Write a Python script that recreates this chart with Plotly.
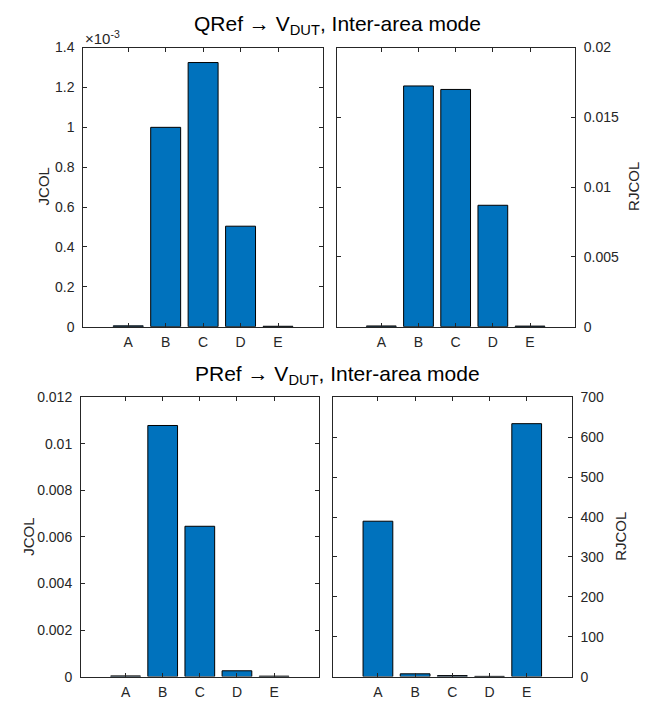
import plotly.graph_objects as go

W, H = 667, 711

categories = ["A", "B", "C", "D", "E"]
q_jcol = [4e-6, 1.0e-3, 1.325e-3, 0.504e-3, 2e-6]
q_rjcol = [5e-5, 0.01725, 0.0170, 0.0087, 4e-5]
p_jcol = [3e-5, 0.01079, 0.00646, 0.00025, 2e-5]
p_rjcol = [389.5, 7.0, 2.5, 0.6, 634.0]

q_jcol_ticks = [0, 0.2e-3, 0.4e-3, 0.6e-3, 0.8e-3, 1.0e-3, 1.2e-3, 1.4e-3]
q_jcol_ticktext = ["0", "0.2", "0.4", "0.6", "0.8", "1", "1.2", "1.4"]
q_rjcol_ticks = [0, 0.005, 0.01, 0.015, 0.02]
q_rjcol_ticktext = ["0", "0.005", "0.01", "0.015", "0.02"]
p_jcol_ticks = [0, 0.002, 0.004, 0.006, 0.008, 0.01, 0.012]
p_jcol_ticktext = ["0", "0.002", "0.004", "0.006", "0.008", "0.01", "0.012"]
p_rjcol_ticks = [0, 100, 200, 300, 400, 500, 600, 700]
p_rjcol_ticktext = ["0", "100", "200", "300", "400", "500", "600", "700"]

BAR = "#0072BD"
AX = "#262626"
FONT = "Liberation Sans, Arial, sans-serif"
TICK = 14

def px_x(a, b):
    return [a / W, b / W]

def px_y(top, bottom):
    return [1 - bottom / H, 1 - top / H]

panels = [
    (q_jcol, px_x(83.3, 323.3), px_y(40.5, 326), [0, 1.4e-3], q_jcol_ticks, q_jcol_ticktext, "left"),
    (q_rjcol, px_x(336.7, 575), px_y(40.5, 326), [0, 0.02], q_rjcol_ticks, q_rjcol_ticktext, "right"),
    (p_jcol, px_x(81, 319), px_y(398.3, 684), [0, 0.012], p_jcol_ticks, p_jcol_ticktext, "left"),
    (p_rjcol, px_x(333.3, 571.7), px_y(398.3, 684), [0, 700], p_rjcol_ticks, p_rjcol_ticktext, "right"),
]

fig = go.Figure()
layout = dict(
    width=W, height=H,
    margin=dict(l=0, r=0, t=0, b=0),
    paper_bgcolor="white", plot_bgcolor="white",
    showlegend=False,
    font=dict(family=FONT, size=TICK, color=AX),
    bargap=0.2,
)

for i, (vals, xd, yd, yr, tv, tt, side) in enumerate(panels, start=1):
    xa = "x" if i == 1 else f"x{i}"
    ya = "y" if i == 1 else f"y{i}"
    fig.add_trace(go.Bar(
        x=categories, y=vals, xaxis=xa, yaxis=ya, width=0.8,
        marker=dict(color=BAR, line=dict(color="#000000", width=1)),
    ))
    xkey = "xaxis" if i == 1 else f"xaxis{i}"
    ykey = "yaxis" if i == 1 else f"yaxis{i}"
    layout[xkey] = dict(
        domain=xd, anchor=ya, type="category", range=[-1.2, 5.21],
        showline=True, linecolor=AX, linewidth=1, mirror="ticks",
        ticks="inside", ticklen=4, tickcolor=AX, showgrid=False,
        ticklabelstandoff=3,
        tickfont=dict(family=FONT, size=TICK, color=AX), fixedrange=True,
    )
    layout[ykey] = dict(
        domain=yd, anchor=xa, range=yr, side=side,
        tickvals=tv, ticktext=tt,
        showline=True, linecolor=AX, linewidth=1, mirror="ticks",
        ticks="inside", ticklen=4, tickcolor=AX, showgrid=False, zeroline=False,
        ticklabelstandoff=5,
        tickfont=dict(family=FONT, size=TICK, color=AX), fixedrange=True,
    )

fig.update_layout(**layout)

ann = []
def add_text(text, x, y, size=14, angle=0, xanchor="center", yanchor="middle", color=AX):
    ann.append(dict(text=text, x=x / W, y=1 - y / H, xref="paper", yref="paper",
                    showarrow=False, textangle=angle, xanchor=xanchor, yanchor=yanchor,
                    font=dict(family=FONT, size=size, color=color)))

add_text("QRef \u2192 V<sub>DUT</sub>, Inter-area mode", 337, 17, size=21, color="#000000")
add_text("PRef \u2192 V<sub>DUT</sub>, Inter-area mode", 337, 375, size=21, color="#000000")
add_text("\u00d710<sup>-3</sup>", 83, 30, size=15, xanchor="left")
add_text("JCOL", 43.5, 183, size=15, angle=-90)
add_text("JCOL", 29, 541, size=15, angle=-90)
add_text("RJCOL", 634, 183, size=15, angle=-90)
add_text("RJCOL", 621, 541, size=15, angle=-90)

fig.update_layout(annotations=ann)
fig.write_html("out.html")
